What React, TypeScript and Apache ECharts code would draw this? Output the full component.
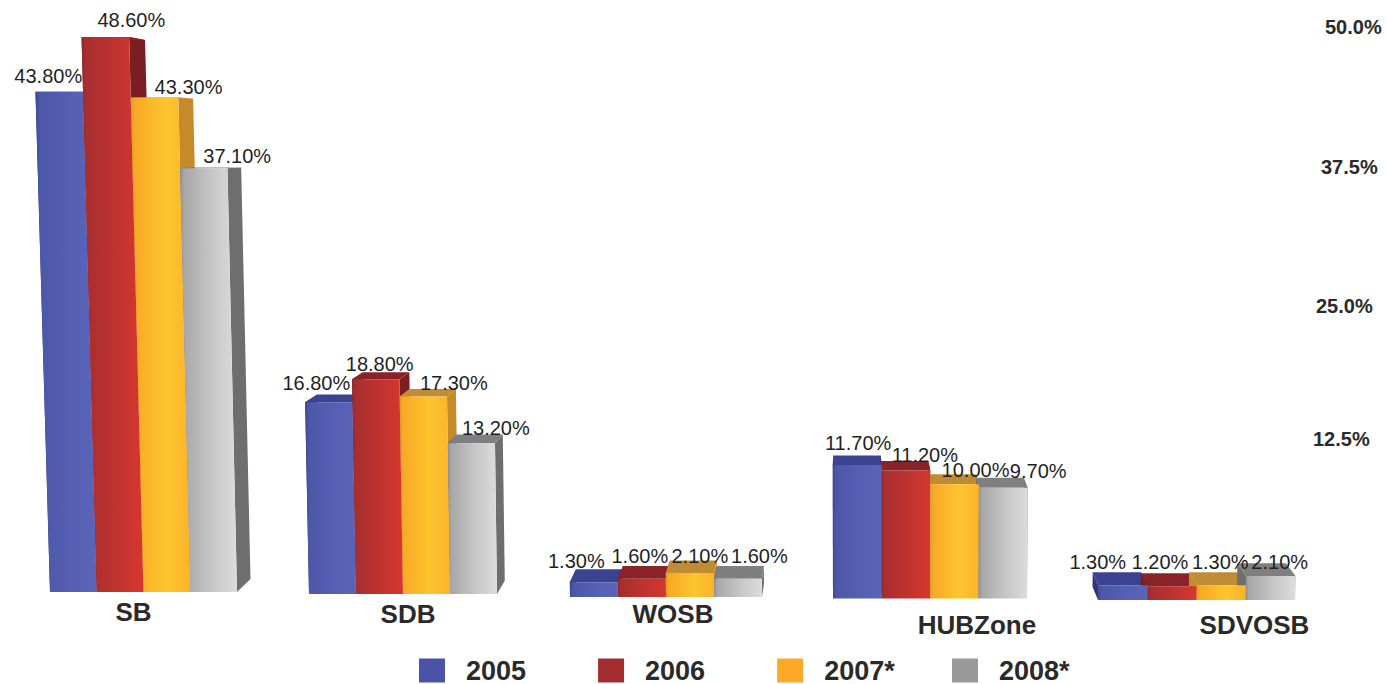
import React, { useEffect, useRef } from "react";
import * as echarts from "echarts";

const categories = ["SB", "SDB", "WOSB", "HUBZone", "SDVOSB"];
const years = ["2005", "2006", "2007*", "2008*"];
const values2005 = [43.8, 16.8, 1.3, 11.7, 1.3];
const values2006 = [48.6, 18.8, 1.6, 11.2, 1.2];
const values2007 = [43.3, 17.3, 2.1, 10.0, 1.3];
const values2008 = [37.1, 13.2, 1.6, 9.7, 2.1];
const valuesByYear = [values2005, values2006, values2007, values2008];
const tickLabels = ["50.0%", "37.5%", "25.0%", "12.5%"];

// layout
const PX_PER_PCT = 11.42;
const PLOT_H = PX_PER_PCT * 50;
const groupLeft = [50, 309, 570, 833, 1098];
const groupWidth = [187, 188, 192, 194, 197];
const groupBase = [592, 594, 597, 598.5, 600];
const nameShift = [-10, 5, 7, 47, 58];
const nameGap = [7, 7, 4, 13, 12];
const tickX = [1325, 1321, 1316, 1313];
const tickY = [27, 167, 306, 439];
const labelShift: number[][][] = [
  [[-11, -16], [26, -17], [34, -11], [33.5, -12]],
  [[-12.5, -19], [4, -15], [30.5, -13], [24.5, -15]],
  [[-17.5, -21], [-2, -23], [10, -17], [21.5, -23]],
  [[1, -22], [19, -16], [21, -14], [35, -17]],
  [[-25, -23], [-12, -24], [-1, -23], [9, -14]],
];

// perspective: depth edges converge on a vanishing point, verticals lean slightly
const VP_X = 850, VP_Y = 140, DEPTH_X = 0.022, DEPTH_Y = 0.029;
const LEAN_X = 880, LEAN = 3.5e-5;

const legendColors = ["#4a53a5", "#a32c31", "#fba927", "#999999"];
const frontStops = [
  ["#3f478f", "#4d57a8", "#5560b4", "#5a65ba"],
  ["#8e2a2d", "#a82e30", "#c2332f", "#d6372e"],
  ["#e09a2a", "#f9a926", "#fdc52e", "#fbb42a"],
  ["#8f8f8f", "#a8a8a8", "#c9c9c9", "#dcdcdc"],
];
const sideColors = ["#2f3678", "#7b1d22", "#c58a2a", "#6e6e6e"];
const topColors = ["#3b4391", "#8a2327", "#c08c33", "#7f7f7f"];
const labelFont = '20px "Liberation Sans", Arial, sans-serif';
const fontFamily = '"Liberation Sans", Arial, sans-serif';

const back = (p: number[]) => [
  p[0] + (VP_X - p[0]) * DEPTH_X,
  p[1] + (VP_Y - p[1]) * DEPTH_Y,
];

function makeRenderItem(g: number, y: number) {
  return (_params: any, api: any) => {
    const cat = api.value(0);
    const v = api.value(1);
    const c0 = api.coord([cat, 0]);
    const c1 = api.coord([cat, v]);
    const w = api.size([1, 0])[0];
    const lean = (x: number) => x - (c0[1] - c1[1]) * (LEAN_X - x) * LEAN;
    const xl = c0[0] - w / 2;
    const xr = c0[0] + w / 2;
    const fBL = [xl, c0[1]];
    const fBR = [xr, c0[1]];
    const fTL = [lean(xl), c1[1]];
    const fTR = [lean(xr), c1[1]];
    const bTL = back(fTL);
    const bTR = back(fTR);
    const bBL = back(fBL);
    const bBR = back(fBR);
    const cx = lean(c0[0]);
    const [sx, sy] = labelShift[g][y];
    const poly = (points: number[][], fill: any, z2: number) => ({
      type: "polygon",
      z2,
      shape: { points },
      style: { fill },
    });
    return {
      type: "group",
      children: [
        poly([fTR, bTR, bBR, fBR], sideColors[y], 1),
        poly([fTL, bTL, bBL, fBL], sideColors[y], 1),
        poly([fTL, bTL, bTR, fTR], topColors[y], 1),
        poly(
          [fTL, fTR, fBR, fBL],
          new echarts.graphic.LinearGradient(0, 0, 1, 0, [
            { offset: 0, color: frontStops[y][0] },
            { offset: 0.07, color: frontStops[y][1] },
            { offset: 0.6, color: frontStops[y][2] },
            { offset: 1, color: frontStops[y][3] },
          ]),
          2
        ),
        {
          type: "text",
          z2: 100,
          style: {
            text: `${v.toFixed(2)}%`,
            x: cx + sx,
            y: c1[1] + sy,
            align: "center",
            verticalAlign: "middle",
            font: labelFont,
            fill: "#1f1f1f",
          },
        },
      ],
    };
  };
}

const legendBase = {
  top: 657,
  padding: 0,
  itemWidth: 26,
  itemHeight: 24,
  itemGap: 72,
  icon: "rect",
  selectedMode: false,
  textStyle: {
    fontFamily,
    fontWeight: "bold",
    fontSize: 27,
    color: "#2a2a2a",
    padding: [0, 0, 0, 16],
  },
};

export default function App() {
  const ref = useRef<HTMLDivElement>(null);
  useEffect(() => {
    const chart = echarts.init(ref.current!, undefined, { renderer: "svg" });
    const series: any[] = [];
    categories.forEach((_c, g) => {
      years.forEach((year, y) => {
        series.push({
          type: "custom",
          name: year,
          xAxisIndex: g,
          yAxisIndex: g,
          encode: { x: 0, y: 1 },
          itemStyle: { color: legendColors[y] },
          data: [[y, valuesByYear[y][g]]],
          renderItem: makeRenderItem(g, y),
        });
      });
    });
    chart.setOption({
      animation: false,
      backgroundColor: "#ffffff",
      grid: categories.map((_c, g) => ({
        left: groupLeft[g],
        width: groupWidth[g],
        top: groupBase[g] - PLOT_H,
        height: PLOT_H,
      })),
      xAxis: categories.map((c, g) => ({
        type: "category",
        gridIndex: g,
        data: years,
        name: c,
        nameLocation: "middle",
        nameGap: nameGap[g],
        nameMoveOverlap: false,
        nameTextStyle: {
          fontFamily,
          fontWeight: "bold",
          fontSize: 26,
          color: "#2a2a2a",
          padding:
            nameShift[g] >= 0
              ? [0, 0, 0, 2 * nameShift[g]]
              : [0, -2 * nameShift[g], 0, 0],
        },
        axisLine: { show: false },
        axisTick: { show: false },
        axisLabel: { show: false },
        splitLine: { show: false },
      })),
      yAxis: categories.map((_c, g) => ({
        type: "value",
        gridIndex: g,
        min: 0,
        max: 50,
        show: false,
      })),
      legend: [
        { ...legendBase, left: 419, data: years.slice(0, 3) },
        { ...legendBase, left: 952, data: years.slice(3) },
      ],
      graphic: tickLabels.map((t, i) => ({
        type: "text",
        x: tickX[i],
        y: tickY[i],
        style: {
          text: t,
          font: `bold 20px ${fontFamily}`,
          fill: "#2a2a2a",
          verticalAlign: "middle",
        },
      })),
      series,
    });
    return () => chart.dispose();
  }, []);
  return (
    <div
      ref={ref}
      style={{ position: "fixed", left: 0, top: 0, width: 1387, height: 684 }}
    />
  );
}
